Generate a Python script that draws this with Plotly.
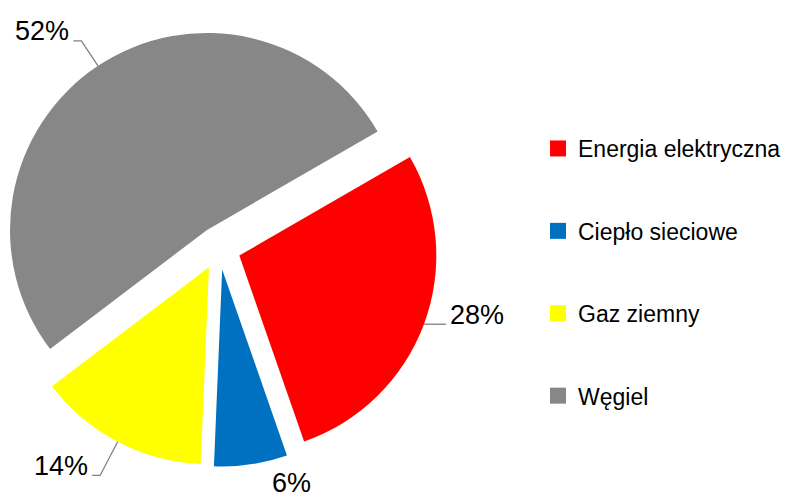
import math
import plotly.graph_objects as go

# ---- data ----
categories = ["Energia elektryczna", "Ciepło sieciowe", "Gaz ziemny", "Węgiel"]
shares = [28, 6, 14, 52]
colors = ["#FF0000", "#0070C0", "#FFFF00", "#878787"]

# ---- label / leader styling (px) ----
label_ext = [0, 28, 38, 30]       # radial leader extension beyond slice edge
label_h = [22, 13, 8, 8]          # horizontal leader segment
draw_leader = [True, False, True, True]

W, H = 787, 493
FONT = "Arial, Liberation Sans, sans-serif"
LABEL_SIZE = 27

# pie geometry in page pixels
CX, CY = 219.0, 248.0
PULL = 0.11
RADIUS = 197.0
BOX = 2 * RADIUS * (1 + PULL)
ROTATION = 60


def px_x(x):
    return x / W


def px_y(y):
    return 1 - y / H


fig = go.Figure()
fig.add_trace(go.Pie(
    labels=categories,
    values=shares,
    sort=False,
    direction="clockwise",
    rotation=ROTATION,
    pull=[PULL] * len(shares),
    marker=dict(colors=colors, line=dict(width=0)),
    textinfo="none",
    showlegend=False,
    domain=dict(x=[max(0.0, px_x(CX - BOX / 2)), px_x(CX + BOX / 2)],
                y=[px_y(CY + BOX / 2), px_y(CY - BOX / 2)]),
    hoverinfo="label+percent",
))

# percentage labels with leader lines, positioned from each slice's mid-angle
total = sum(shares)
cum = 0.0
for v, ext, hseg, leader in zip(shares, label_ext, label_h, draw_leader):
    mid = math.radians(ROTATION + 360.0 * (cum + v / 2.0) / total)
    cum += v
    ux, uy = math.sin(mid), -math.cos(mid)
    r_edge = RADIUS * (1 + PULL)
    p1 = (CX + r_edge * ux, CY + r_edge * uy)
    p2 = (CX + (r_edge + ext) * ux, CY + (r_edge + ext) * uy)
    side = 1 if ux >= 0 else -1
    p3 = (p2[0] + side * hseg, p2[1])
    if leader:
        fig.add_shape(
            type="path", xref="paper", yref="paper",
            path="M {:.5f} {:.5f} L {:.5f} {:.5f} L {:.5f} {:.5f}".format(
                px_x(p1[0]), px_y(p1[1]), px_x(p2[0]), px_y(p2[1]),
                px_x(p3[0]), px_y(p3[1])),
            line=dict(color="#808080", width=1.3),
        )
    fig.add_annotation(
        x=px_x(p3[0] + side * 2), y=px_y(p3[1] - 9.5),
        xref="paper", yref="paper",
        xanchor="left" if side > 0 else "right", yanchor="middle",
        text=f"{v}%", showarrow=False,
        font=dict(size=LABEL_SIZE, color="#000000", family=FONT),
    )

# legend entries (one per category, own group so spacing can match)
for name, col in zip(categories, colors):
    fig.add_trace(go.Scatter(
        x=[None], y=[None], mode="markers", name=name,
        legendgroup=name,
        marker=dict(symbol="square", size=16, color=col),
        hoverinfo="skip",
    ))

fig.update_layout(
    width=W, height=H,
    margin=dict(l=0, r=0, t=0, b=0),
    paper_bgcolor="white", plot_bgcolor="white",
    font=dict(family=FONT, color="#000000"),
    xaxis=dict(visible=False), yaxis=dict(visible=False),
    legend=dict(
        x=538 / W, xanchor="left",
        y=1 - 127 / H, yanchor="top",
        font=dict(size=23, family=FONT, color="#000000"),
        tracegroupgap=49.5,
        bgcolor="rgba(0,0,0,0)",
    ),
)

fig.write_html(
    "out.html",
    config={"displayModeBar": False},
    post_script="document.body.style.margin='0px';",
)
